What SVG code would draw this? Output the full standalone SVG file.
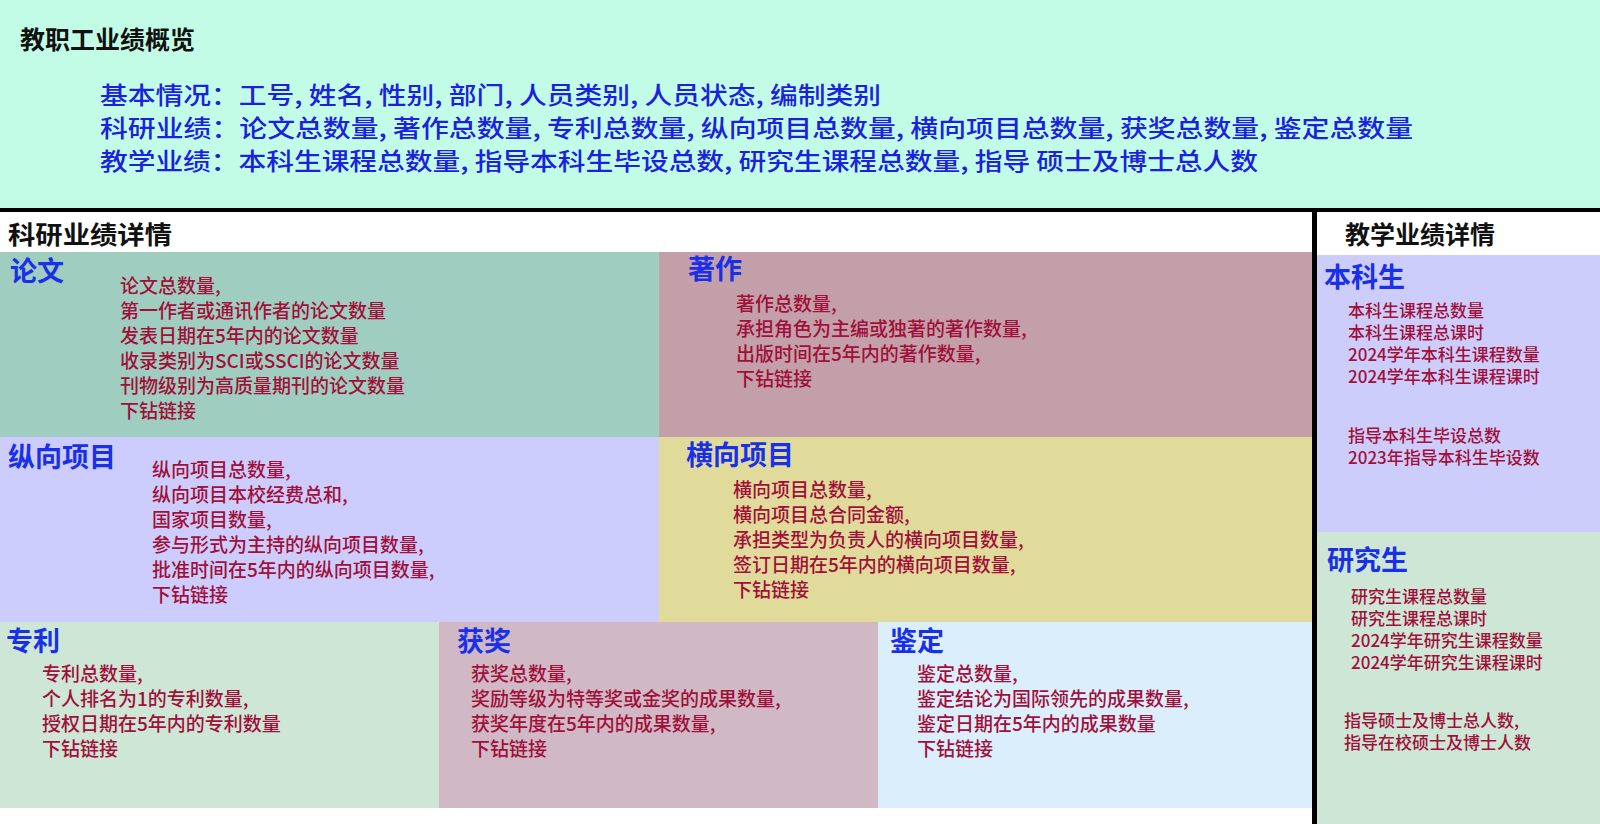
<svg xmlns="http://www.w3.org/2000/svg" width="1600" height="824" viewBox="0 0 1600 824">
<style>
text{font-family:"Noto Sans CJK SC","Liberation Sans",sans-serif}
.h{fill:#111;font-size:25px;font-weight:bold}
.b{fill:#1a22e0;font-size:24px;font-weight:500}
.t{fill:#1a30e8;font-size:27px;font-weight:bold}
.r{fill:#a0103a;font-size:19px;font-weight:500}
.s{fill:#a0103a;font-size:17px;font-weight:500}
</style>
<rect width="1600" height="824" fill="#fff"/>
<g id="header">
<rect x="0" y="0" width="1600" height="209" fill="#c2fce6"/>
<text class="h" x="20" y="49">教职工业绩概览</text>
<text class="b" x="100" y="104" textLength="781" lengthAdjust="spacingAndGlyphs">基本情况：工号, 姓名, 性别, 部门, 人员类别, 人员状态, 编制类别</text>
<text class="b" x="100" y="137" textLength="1313" lengthAdjust="spacingAndGlyphs">科研业绩：论文总数量, 著作总数量, 专利总数量, 纵向项目总数量, 横向项目总数量, 获奖总数量, 鉴定总数量</text>
<text class="b" x="100" y="170" textLength="1158" lengthAdjust="spacingAndGlyphs">教学业绩：本科生课程总数量, 指导本科生毕设总数, 研究生课程总数量, 指导 硕士及博士总人数</text>
</g>
<g id="lines">
<rect x="0" y="208" width="1600" height="4" fill="#000"/>
<rect x="1312" y="210" width="5" height="614" fill="#000"/>
</g>
<text class="h" x="8" y="244" font-weight="500" textLength="164" lengthAdjust="spacingAndGlyphs">科研业绩详情</text>
<text class="h" x="1345" y="244" font-weight="500" font-size="22">教学业绩详情</text>
<g id="lunwen">
<rect x="0" y="252" width="659" height="185" fill="#9fcdbf"/>
<text class="t" x="10" y="281">论文</text>
<text class="r" x="120" y="293">论文总数量,</text>
<text class="r" x="120" y="318">第一作者或通讯作者的论文数量</text>
<text class="r" x="120" y="343">发表日期在5年内的论文数量</text>
<text class="r" x="120" y="368">收录类别为SCI或SSCI的论文数量</text>
<text class="r" x="120" y="393">刊物级别为高质量期刊的论文数量</text>
<text class="r" x="120" y="418">下钻链接</text>
</g>
<g id="zhuzuo">
<rect x="659" y="252" width="653" height="185" fill="#c39fa9"/>
<text class="t" x="688" y="279">著作</text>
<text class="r" x="736" y="311">著作总数量,</text>
<text class="r" x="736" y="336">承担角色为主编或独著的著作数量,</text>
<text class="r" x="736" y="361">出版时间在5年内的著作数量,</text>
<text class="r" x="736" y="386">下钻链接</text>
</g>
<g id="zongxiang">
<rect x="0" y="437" width="659" height="185" fill="#cccdfc"/>
<text class="t" x="8" y="467">纵向项目</text>
<text class="r" x="152" y="477">纵向项目总数量,</text>
<text class="r" x="152" y="502">纵向项目本校经费总和,</text>
<text class="r" x="152" y="527">国家项目数量,</text>
<text class="r" x="152" y="552">参与形式为主持的纵向项目数量,</text>
<text class="r" x="152" y="577">批准时间在5年内的纵向项目数量,</text>
<text class="r" x="152" y="602">下钻链接</text>
</g>
<g id="hengxiang">
<rect x="659" y="437" width="653" height="185" fill="#e1db9b"/>
<text class="t" x="686" y="465">横向项目</text>
<text class="r" x="733" y="497">横向项目总数量,</text>
<text class="r" x="733" y="522">横向项目总合同金额,</text>
<text class="r" x="733" y="547">承担类型为负责人的横向项目数量,</text>
<text class="r" x="733" y="572">签订日期在5年内的横向项目数量,</text>
<text class="r" x="733" y="597">下钻链接</text>
</g>
<g id="zhuanli">
<rect x="0" y="622" width="439" height="186" fill="#cde6d6"/>
<text class="t" x="6" y="651">专利</text>
<text class="r" x="42" y="681">专利总数量,</text>
<text class="r" x="42" y="706">个人排名为1的专利数量,</text>
<text class="r" x="42" y="731">授权日期在5年内的专利数量</text>
<text class="r" x="42" y="756">下钻链接</text>
</g>
<g id="huojiang">
<rect x="439" y="622" width="439" height="186" fill="#d0b8c5"/>
<text class="t" x="457" y="651">获奖</text>
<text class="r" x="471" y="681">获奖总数量,</text>
<text class="r" x="471" y="706">奖励等级为特等奖或金奖的成果数量,</text>
<text class="r" x="471" y="731">获奖年度在5年内的成果数量,</text>
<text class="r" x="471" y="756">下钻链接</text>
</g>
<g id="jianding">
<rect x="878" y="622" width="434" height="186" fill="#dbeefc"/>
<text class="t" x="890" y="651">鉴定</text>
<text class="r" x="917" y="681">鉴定总数量,</text>
<text class="r" x="917" y="706">鉴定结论为国际领先的成果数量,</text>
<text class="r" x="917" y="731">鉴定日期在5年内的成果数量</text>
<text class="r" x="917" y="756">下钻链接</text>
</g>
<g id="benke">
<rect x="1317" y="255" width="283" height="277" fill="#cdcdfc"/>
<text class="t" x="1324" y="287" font-size="24">本科生</text>
<text class="s" x="1348" y="317">本科生课程总数量</text>
<text class="s" x="1348" y="339">本科生课程总课时</text>
<text class="s" x="1348" y="361">2024学年本科生课程数量</text>
<text class="s" x="1348" y="383">2024学年本科生课程课时</text>
<text class="s" x="1348" y="442">指导本科生毕设总数</text>
<text class="s" x="1348" y="464">2023年指导本科生毕设数</text>
</g>
<g id="yanjiu">
<rect x="1317" y="532" width="283" height="292" fill="#cde6d6"/>
<text class="t" x="1327" y="570" font-size="24">研究生</text>
<text class="s" x="1351" y="603">研究生课程总数量</text>
<text class="s" x="1351" y="625">研究生课程总课时</text>
<text class="s" x="1351" y="647">2024学年研究生课程数量</text>
<text class="s" x="1351" y="669">2024学年研究生课程课时</text>
<text class="s" x="1344" y="727">指导硕士及博士总人数,</text>
<text class="s" x="1344" y="749">指导在校硕士及博士人数</text>
</g>
</svg>
